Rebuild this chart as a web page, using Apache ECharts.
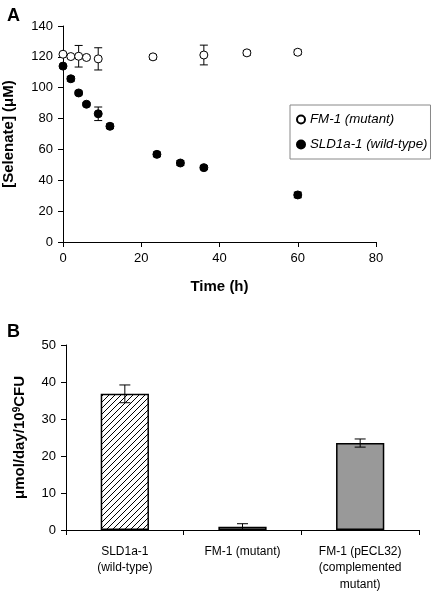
<!DOCTYPE html>
<html><head><meta charset="utf-8">
<script src="https://cdn.jsdelivr.net/npm/echarts@6/dist/echarts.min.js"></script>
<style>html,body{margin:0;padding:0;background:#fff}#c{width:432px;height:596px}</style>
</head><body><div id="c"></div>
<script>
// Panel A data
const timeMutant = [0, 2, 4, 6, 9, 23, 36, 47, 60];
const selMutant = [121.7, 120.2, 120.4, 119.6, 118.7, 120.0, 121.2, 122.6, 123.0];
const errMutant = [0.8, 0.8, 7.0, 1.0, 7.2, 1.5, 6.4, 1.5, 1.5];
const timeWild = [0, 2, 4, 6, 9, 12, 24, 30, 36, 60];
const selWild = [114.0, 105.8, 96.6, 89.3, 83.1, 75.0, 56.8, 51.2, 48.2, 30.5];
const errWild = [1.0, 1.5, 1.2, 1.0, 4.4, 1.5, 1.5, 1.5, 1.2, 1.8];
// Panel B data
const strains = ['SLD1a-1\n(wild-type)', 'FM-1 (mutant)', 'FM-1 (pECL32)\n(complemented\nmutant)'];
const rates = [36.8, 0.9, 23.5];
const rateErr = [2.4, 0.8, 1.1];

const FONT = 'Liberation Sans, Arial, sans-serif';

function hatch() {
  const c = document.createElement('canvas');
  c.width = 6; c.height = 6;
  const g = c.getContext('2d');
  g.fillStyle = '#fff'; g.fillRect(0, 0, 6, 6);
  g.strokeStyle = '#000'; g.lineWidth = 1;
  g.beginPath();
  g.moveTo(-1, 7); g.lineTo(7, -1);
  g.moveTo(-1, 1); g.lineTo(1, -1);
  g.moveTo(5, 7); g.lineTo(7, 5);
  g.stroke();
  return c;
}

function errSeries(xs, ys, es, xi, yi, half) {
  return {
    type: 'custom', xAxisIndex: xi, yAxisIndex: yi, z: 4, silent: true,
    data: xs.map((x, i) => [x, ys[i] - es[i], ys[i] + es[i]]),
    renderItem: function (params, api) {
      const lo = api.coord([api.value(0), api.value(1)]);
      const hi = api.coord([api.value(0), api.value(2)]);
      const st = { stroke: '#000', lineWidth: 1 };
      return { type: 'group', children: [
        { type: 'line', shape: { x1: lo[0], y1: lo[1], x2: hi[0], y2: hi[1] }, style: st },
        { type: 'line', shape: { x1: lo[0] - half, y1: lo[1], x2: lo[0] + half, y2: lo[1] }, style: st },
        { type: 'line', shape: { x1: hi[0] - half, y1: hi[1], x2: hi[0] + half, y2: hi[1] }, style: st }
      ] };
    }
  };
}

const axisCommon = {
  axisLine: { show: true, lineStyle: { color: '#000', width: 1 } },
  axisTick: { show: true, inside: false, length: 5, lineStyle: { color: '#000' } },
  splitLine: { show: false },
  axisLabel: { color: '#000', fontFamily: FONT, fontSize: 13 }
};

const chart = echarts.init(document.getElementById('c'), null, { renderer: 'canvas' });
chart.setOption({
  animation: false,
  backgroundColor: '#fff',
  title: [
    { text: 'A', left: 2, top: 2, textStyle: { fontFamily: FONT, fontWeight: 'bold', fontSize: 18, color: '#000' } },
    { text: 'B', left: 2, top: 318, textStyle: { fontFamily: FONT, fontWeight: 'bold', fontSize: 18, color: '#000' } }
  ],
  grid: [
    { left: 63, right: 56, top: 26, bottom: 354, containLabel: false, outerBoundsMode: 'none' },
    { left: 66, right: 13, top: 345, bottom: 66, containLabel: false, outerBoundsMode: 'none' }
  ],
  legend: {
    orient: 'vertical', left: 290, top: 105,
    borderColor: '#888', borderWidth: 1, padding: [8, 3, 8, 6], itemGap: 12,
    itemWidth: 8, itemHeight: 8,
    textStyle: { fontFamily: FONT, fontStyle: 'italic', fontSize: 13.3, color: '#000' },
    data: ['FM-1 (mutant)', 'SLD1a-1 (wild-type)']
  },
  xAxis: [
    Object.assign({}, axisCommon, {
      type: 'value', gridIndex: 0, min: 0, max: 80, interval: 20,
      name: 'Time (h)', nameLocation: 'middle', nameGap: 37,
      nameTextStyle: { fontFamily: FONT, fontWeight: 'bold', fontSize: 15, color: '#000' },
      axisLabel: { color: '#000', fontFamily: FONT, fontSize: 13, margin: 10 }
    }),
    Object.assign({}, axisCommon, {
      type: 'category', gridIndex: 1, data: strains,
      axisTick: { show: true, length: 5, alignWithLabel: false, lineStyle: { color: '#000' } },
      axisLabel: { color: '#000', fontFamily: FONT, fontSize: 12, margin: 13, lineHeight: 16.5, interval: 0 }
    })
  ],
  yAxis: [
    Object.assign({}, axisCommon, {
      type: 'value', gridIndex: 0, min: 0, max: 140, interval: 20,
      name: '[Selenate] (μM)', nameLocation: 'middle', nameGap: 47,
      nameTextStyle: { fontFamily: FONT, fontWeight: 'bold', fontSize: 15, color: '#000' },
      axisLabel: { color: '#000', fontFamily: FONT, fontSize: 13, margin: 10 }
    }),
    Object.assign({}, axisCommon, {
      type: 'value', gridIndex: 1, min: 0, max: 50, interval: 10,
      name: '{a|μmol/day/10}{s|9}{a|CFU}', nameLocation: 'middle', nameGap: 38,
      nameTextStyle: { rich: {
        a: { fontFamily: FONT, fontWeight: 'bold', fontSize: 15, color: '#000' },
        s: { fontFamily: FONT, fontWeight: 'bold', fontSize: 10, color: '#000', verticalAlign: 'top', padding: [0, 0, 6, 0] }
      } },
      axisLabel: { color: '#000', fontFamily: FONT, fontSize: 13, margin: 10 }
    })
  ],
  series: [
    errSeries(timeMutant, selMutant, errMutant, 0, 0, 4),
    errSeries(timeWild, selWild, errWild, 0, 0, 4),
    {
      name: 'FM-1 (mutant)', type: 'scatter', xAxisIndex: 0, yAxisIndex: 0, z: 5,
      symbol: 'circle', symbolSize: 8,
      itemStyle: { color: '#fff', borderColor: '#000', borderWidth: 1, opacity: 1 },
      data: timeMutant.map((t, i) => [t, selMutant[i]])
    },
    {
      name: 'SLD1a-1 (wild-type)', type: 'scatter', xAxisIndex: 0, yAxisIndex: 0, z: 5,
      symbol: 'circle', symbolSize: 8,
      itemStyle: { color: '#000', borderColor: '#000', borderWidth: 1, opacity: 1 },
      data: timeWild.map((t, i) => [t, selWild[i]])
    },
    {
      type: 'bar', xAxisIndex: 1, yAxisIndex: 1, barWidth: '41%', z: 2,
      data: rates.map((v, i) => ({
        value: v,
        itemStyle: {
          color: i === 0 ? { image: hatch(), repeat: 'repeat' } : (i === 1 ? '#fff' : '#999999'),
          borderColor: '#000', borderWidth: 1.5
        }
      }))
    },
    errSeries([0, 1, 2], rates, rateErr, 1, 1, 5.5)
  ]
});
</script></body></html>
